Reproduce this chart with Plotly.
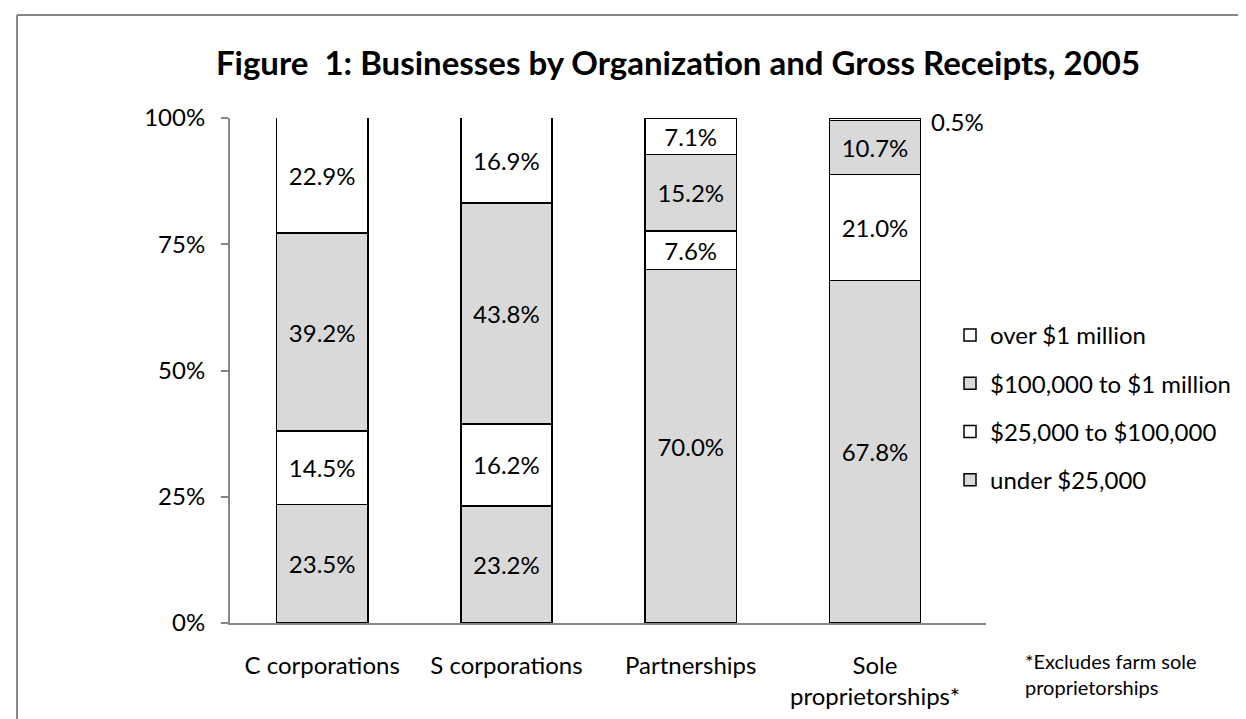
import plotly.graph_objects as go

categories = ["C corporations", "S corporations", "Partnerships", "Sole<br>proprietorships*"]
series_names = ["under $25,000", "$25,000 to $100,000", "$100,000 to $1 million", "over $1 million"]
under_25k = [23.5, 23.2, 70.0, 67.8]
from_25k_to_100k = [14.5, 16.2, 7.6, 21.0]
from_100k_to_1m = [39.2, 43.8, 15.2, 10.7]
over_1m = [22.9, 16.9, 7.1, 0.5]
y_ticks = [0, 25, 50, 75, 100]
y_tick_labels = ["0%", "25%", "50%", "75%", "100%"]

series_values = [under_25k, from_25k_to_100k, from_100k_to_1m, over_1m]
fills = ["#d9d9d9", "#ffffff", "#d9d9d9", "#ffffff"]
legend_ranks = [4, 3, 2, 1]

FONT = "Lato, Carlito, Calibri, sans-serif"
FS = 24
W, H = 1246, 719
L, R, T, B = 222, 268, 110, 104
PW = W - L - R
PH = H - T - B


def px_x(px):
    return (px - L) / PW


def px_y(py):
    return (H - B - py) / PH


fig = go.Figure()
for name, vals, fill, rank in zip(series_names, series_values, fills, legend_ranks):
    texts = [f"{v:.1f}%" if v >= 3 else "" for v in vals]
    fig.add_trace(go.Bar(
        x=categories, y=vals, name=name, legendgroup=name, legendrank=rank,
        marker=dict(color=fill, line=dict(color="#000000", width=1.5)),
        text=texts, textposition="inside", insidetextanchor="middle",
        textangle=0, constraintext="none",
        textfont=dict(family=FONT, size=FS, color="#000000"),
        hoverinfo="skip",
    ))

# label for the tiny top segment, placed beside the bar
small_idx = [i for i, v in enumerate(over_1m) if v < 3]
for i in small_idx:
    top = under_25k[i] + from_25k_to_100k[i] + from_100k_to_1m[i] + over_1m[i]
    fig.add_annotation(x=categories[i], y=top, text=f"{over_1m[i]:.1f}%",
                       showarrow=False, xanchor="left", yanchor="middle",
                       xshift=54, yshift=-3,
                       font=dict(family=FONT, size=FS, color="#000000"))

fig.add_annotation(xref="paper", yref="paper", x=px_x(1015), y=px_y(639),
                   text="*Excludes farm sole<br>proprietorships", showarrow=False,
                   xanchor="left", yanchor="top", align="left",
                   font=dict(family=FONT, size=20, color="#000000"))

# outer chart border (left + top visible)
bx = px_x(9)
by = px_y(7)
fig.add_shape(type="line", xref="paper", yref="paper", x0=bx, y0=px_y(730), x1=bx, y1=by,
              line=dict(color="#868686", width=2))
fig.add_shape(type="line", xref="paper", yref="paper", x0=bx, y0=by, x1=px_x(1260), y1=by,
              line=dict(color="#868686", width=2))

fig.update_layout(
    width=W, height=H,
    barmode="stack", bargap=0.505,
    paper_bgcolor="#ffffff", plot_bgcolor="#ffffff",
    margin=dict(l=L, r=R, t=T, b=B),
    title=dict(text="<b>Figure  1: Businesses by Organization and Gross Receipts, 2005</b>",
               x=670 / W, xanchor="center", y=1 - 55 / H, yanchor="middle",
               font=dict(family=FONT, size=33, color="#000000")),
    font=dict(family=FONT, size=FS, color="#000000"),
    showlegend=True,
    legend=dict(traceorder="grouped", tracegroupgap=14,
                x=px_x(942), xanchor="left", y=px_y(305), yanchor="top",
                font=dict(family=FONT, size=FS, color="#000000"),
                itemwidth=30, bgcolor="rgba(0,0,0,0)"),
    xaxis=dict(showline=True, linecolor="#868686", linewidth=2, ticks="",
               showgrid=False, ticklabelstandoff=20,
               tickfont=dict(family=FONT, size=FS, color="#000000")),
    yaxis=dict(range=[0, 100], tickvals=y_ticks, ticktext=y_tick_labels,
               showline=True, linecolor="#868686", linewidth=2,
               ticks="outside", ticklen=7, tickcolor="#868686", tickwidth=2,
               showgrid=False, zeroline=False, ticklabelstandoff=11,
               tickfont=dict(family=FONT, size=FS, color="#000000")),
)

fig.write_html("out.html")
